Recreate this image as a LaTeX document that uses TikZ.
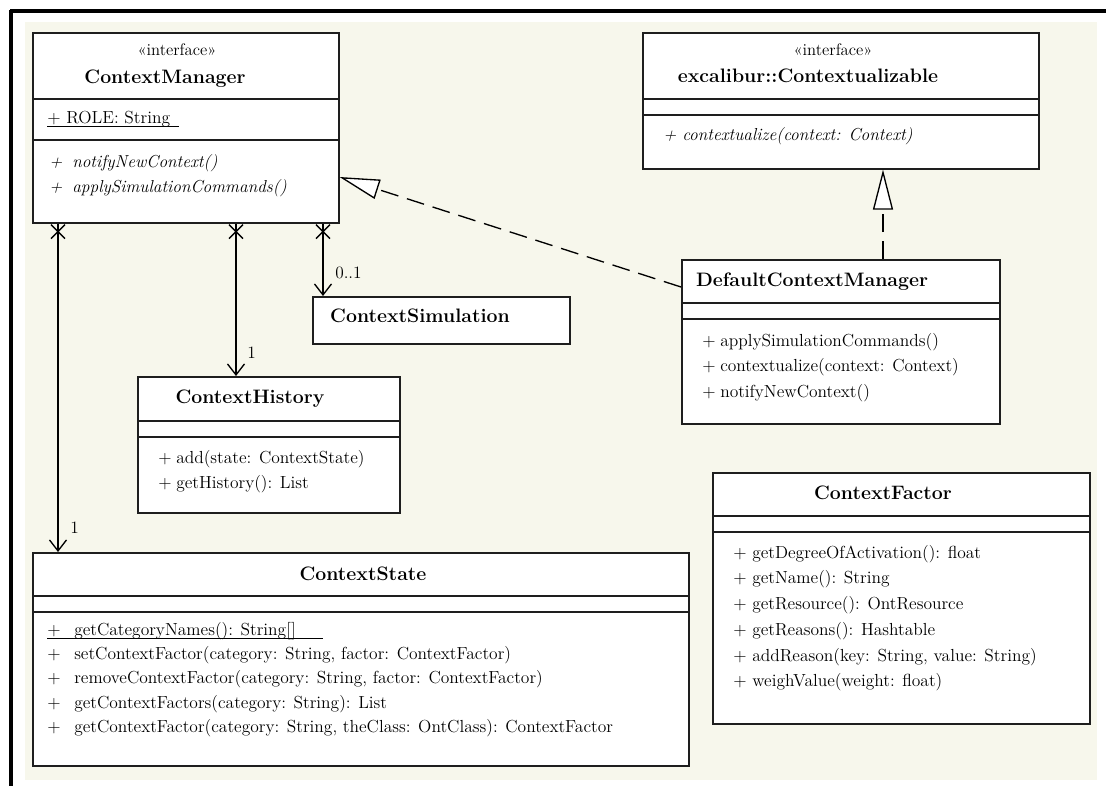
\documentclass[tikz,border=0pt]{standalone}
\usepackage{fontspec}
\usetikzlibrary{arrows.meta,shadows}
\newlength\pxu
\setlength\pxu{0.75pt}
\definecolor{paper}{RGB}{247,247,236}
\definecolor{ink}{RGB}{30,30,30}
% one member line: visibility mark in a fixed-width slot, then the signature
\newcommand\umlop[2]{\makebox[#1\pxu][l]{+}#2}
\begin{document}
\begin{tikzpicture}[x=0.75pt,y=-0.75pt,
  cls/.style={draw=ink, line width=1.2pt, fill=white, anchor=north west, inner sep=0pt,
    drop shadow={shadow xshift=1.1pt, shadow yshift=-1.1pt, fill=black!40, opacity=1}},
  sep/.style={draw=ink, line width=1.1pt},
  member/.style={anchor=base west, inner sep=0pt, font=\fontsize{13.1}{15}\selectfont},
  title/.style={anchor=base, inner sep=0pt, font=\fontsize{14.6}{17}\selectfont\bfseries},
  stereo/.style={anchor=base, inner sep=0pt, font=\fontsize{12.5}{14}\selectfont},
  mult/.style={anchor=base west, inner sep=0pt, font=\fontsize{13}{15}\selectfont},
  assoc/.style={draw=black, line width=1pt,
    -{Straight Barb[length=8.25pt, width=12.75pt, line width=1pt]}},
  realize/.style={draw=black, line width=1pt, dash pattern=on 13.5pt off 6.75pt,
    -{Triangle[length=30pt, width=15pt, fill=white, line width=1pt]}},
  xmark/.pic={\draw[line width=1pt] (-7,1) -- (7,15) (7,1) -- (-7,15);}
]
\useasboundingbox (0,0) rectangle (1106,786);
% sheet and its frame
\fill[paper] (25,22) rectangle (1097,780);
\draw[line width=2.3pt] (10,11) -- (1106,11);
\draw[line width=2.3pt] (11,10) -- (11,786);

% ---------------- ContextManager ----------------
\node[cls, minimum width=306\pxu, minimum height=190\pxu] (cm) at (32,32) {};
\draw[sep] ([shift={(0,67)}]cm.north west) -- ([shift={(0,67)}]cm.north east);
\draw[sep] ([shift={(0,108)}]cm.north west) -- ([shift={(0,108)}]cm.north east);
\node[stereo] (cmst) at (177,55) {«interface»};
\node[title] (cmname) at (165,83) {ContextManager};
\node[member] (cmrole) at (47,123) {+ ROLE: String};
\draw[line width=0.9pt] ([shift={(0,3.5)}]cmrole.base west) -- ++(132,0);
\node[member, font=\fontsize{13}{15}\selectfont\itshape] (cmop1) at (49,167) {\umlop{23}{notifyNewContext()}};
\node[member, font=\fontsize{13}{15}\selectfont\itshape] (cmop2) at (49,192) {\umlop{23}{applySimulationCommands()}};

% ---------------- excalibur::Contextualizable ----------------
\node[cls, minimum width=396\pxu, minimum height=136\pxu] (ctz) at (642,32) {};
\draw[sep] ([shift={(0,67)}]ctz.north west) -- ([shift={(0,67)}]ctz.north east);
\draw[sep] ([shift={(0,83)}]ctz.north west) -- ([shift={(0,83)}]ctz.north east);
\node[stereo] (ctzst) at (833,55) {«interface»};
\node[title] (ctzname) at (808,82) {excalibur::Contextualizable};
\node[member, font=\fontsize{13}{15}\selectfont\itshape] (ctzop1) at (663,140) {\umlop{19}{contextualize(context: Context)}};

% ---------------- DefaultContextManager ----------------
\node[cls, minimum width=318\pxu, minimum height=164\pxu] (dcm) at (681,259) {};
\draw[sep] ([shift={(0,44)}]dcm.north west) -- ([shift={(0,44)}]dcm.north east);
\draw[sep] ([shift={(0,60)}]dcm.north west) -- ([shift={(0,60)}]dcm.north east);
\node[title] (dcmname) at (812,286) {DefaultContextManager};
\node[member] (dcmop1) at (702,346) {\umlop{18}{applySimulationCommands()}};
\node[member] (dcmop2) at (702,371) {\umlop{18}{contextualize(context: Context)}};
\node[member] (dcmop3) at (702,397) {\umlop{18}{notifyNewContext()}};

% ---------------- ContextSimulation ----------------
\node[cls, minimum width=257\pxu, minimum height=47\pxu] (sim) at (312,296) {};
\node[title] (simname) at (420,322) {ContextSimulation};

% ---------------- ContextHistory ----------------
\node[cls, minimum width=262\pxu, minimum height=136\pxu] (hist) at (137,376) {};
\draw[sep] ([shift={(0,45)}]hist.north west) -- ([shift={(0,45)}]hist.north east);
\draw[sep] ([shift={(0,61)}]hist.north west) -- ([shift={(0,61)}]hist.north east);
\node[title] (histname) at (250,403) {ContextHistory};
\node[member] (histop1) at (158,463) {\umlop{18}{add(state: ContextState)}};
\node[member] (histop2) at (158,488) {\umlop{18}{getHistory(): List}};

% ---------------- ContextState ----------------
\node[cls, minimum width=656\pxu, minimum height=213\pxu] (state) at (32,552) {};
\draw[sep] ([shift={(0,44)}]state.north west) -- ([shift={(0,44)}]state.north east);
\draw[sep] ([shift={(0,60)}]state.north west) -- ([shift={(0,60)}]state.north east);
\node[title] (statename) at (363,580) {ContextState};
\node[member] (stateop1) at (47,635) {\umlop{27}{getCategoryNames(): String[]}};
\draw[line width=0.9pt] ([shift={(0,3.5)}]stateop1.base west) -- ++(276,0);
\node[member] (stateop2) at (47,659) {\umlop{27}{setContextFactor(category: String, factor: ContextFactor)}};
\node[member] (stateop3) at (47,683) {\umlop{27}{removeContextFactor(category: String, factor: ContextFactor)}};
\node[member] (stateop4) at (47,708) {\umlop{27}{getContextFactors(category: String): List}};
\node[member] (stateop5) at (47,732) {\umlop{27}{getContextFactor(category: String, theClass: OntClass): ContextFactor}};

% ---------------- ContextFactor ----------------
\node[cls, minimum width=377\pxu, minimum height=251\pxu] (factor) at (712,472) {};
\draw[sep] ([shift={(0,44)}]factor.north west) -- ([shift={(0,44)}]factor.north east);
\draw[sep] ([shift={(0,60)}]factor.north west) -- ([shift={(0,60)}]factor.north east);
\node[title] (factorname) at (883,499) {ContextFactor};
\node[member] (factorop1) at (733,558) {\umlop{19}{getDegreeOfActivation(): float}};
\node[member] (factorop2) at (733,583) {\umlop{19}{getName(): String}};
\node[member] (factorop3) at (733,609) {\umlop{19}{getResource(): OntResource}};
\node[member] (factorop4) at (733,635) {\umlop{19}{getReasons(): Hashtable}};
\node[member] (factorop5) at (733,661) {\umlop{19}{addReason(key: String, value: String)}};
\node[member] (factorop6) at (733,686) {\umlop{19}{weighValue(weight: float)}};

% ---------------- composite associations from ContextManager ----------------
\coordinate (cmA) at ([shift={(26,0)}]cm.south west);
\coordinate (cmB) at ([shift={(204,0)}]cm.south west);
\coordinate (cmC) at ([shift={(291,0)}]cm.south west);
\draw[assoc] (cmA) -- (cmA |- state.north);
\draw[assoc] (cmB) -- (cmB |- hist.north);
\draw[assoc] (cmC) -- (cmC |- sim.north);
\pic at (cmA) {xmark};
\pic at (cmB) {xmark};
\pic at (cmC) {xmark};
\node[mult] (mstate) at (70,533) {1};
\node[mult] (mhist) at (247,358) {1};
\node[mult] (msim) at (335,278) {0..1};

% ---------------- realizations ----------------
\coordinate (dcmIn) at ([shift={(0,28)}]dcm.north west);
\coordinate (cmOut) at ([shift={(0,145)}]cm.north east);
\draw[realize] (dcmIn) -- (cmOut);
\coordinate (dcmTop) at ([shift={(202,0)}]dcm.north west);
\draw[realize] (dcmTop) -- (dcmTop |- ctz.south);
\end{tikzpicture}
\end{document}
